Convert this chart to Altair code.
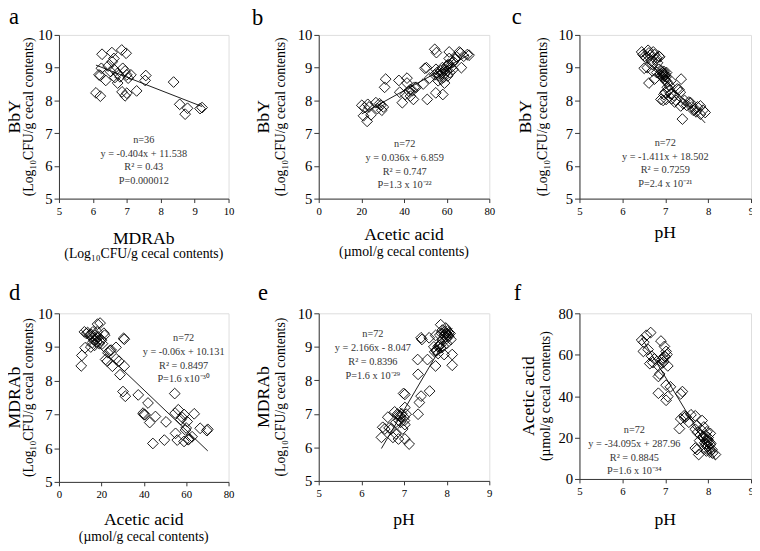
import altair as alt
import pandas as pd

FONT = "Liberation Serif"

# ---------------- data ----------------
a_x = [6.27, 6.56, 6.85, 6.98, 6.57, 6.62, 6.25, 6.18, 6.22, 6.38, 6.52, 6.62, 6.73, 6.88, 6.95, 7.00,
       7.12, 7.04, 6.73, 6.65, 6.80, 6.09, 6.22, 6.86, 6.95, 7.00, 7.29, 7.56, 7.54, 8.38, 8.56, 8.79,
       8.72, 9.16, 9.22, 6.45]
a_y = [9.41, 9.46, 9.54, 9.44, 9.18, 9.28, 8.98, 8.78, 8.76, 8.61, 8.88, 8.95, 8.83, 8.98, 8.90, 8.78,
       8.78, 8.68, 8.53, 8.70, 8.72, 8.23, 8.13, 8.26, 8.14, 8.22, 8.29, 8.76, 8.61, 8.56, 7.88, 7.76,
       7.58, 7.75, 7.78, 9.05]

b_x = [20.2, 21.0, 22.7, 23.0, 24.5, 26.8, 29.1, 29.6, 30.3, 30.9, 31.4, 21.5, 23.6, 27.5, 28.5,
       37.6, 39.2, 40.6, 41.4, 41.4, 42.9, 44.4, 44.9, 45.7, 43.0, 42.3, 38.0, 44.0,
       49.8, 50.5, 50.9, 49.0, 54.4, 55.2, 54.9, 58.2, 52.0, 54.4, 55.5, 56.0, 56.5, 57.0, 57.5, 58.0,
       58.5, 59.0, 59.0, 59.5, 60.0, 60.0, 60.5, 61.0, 61.2, 61.2, 61.5, 62.0, 62.5, 63.2, 64.0, 64.7,
       65.9, 66.9, 66.5, 68.0, 69.7, 70.5, 56.0, 57.5, 58.0, 60.5, 63.0, 55.0]
b_y = [7.85, 7.53, 7.36, 7.88, 7.56, 7.93, 7.85, 7.70, 7.80, 8.40, 8.65, 7.78, 7.80, 7.75, 7.90,
       8.61, 7.93, 8.18, 8.68, 8.53, 8.33, 8.03, 8.40, 8.40, 8.13, 8.28, 8.25, 8.30,
       8.98, 9.00, 8.03, 8.50, 9.56, 9.46, 8.23, 8.18, 8.68, 8.78, 8.85, 8.80, 8.75, 8.90, 8.82, 8.85,
       8.70, 8.53, 8.80, 8.95, 8.90, 9.05, 9.08, 9.10, 9.28, 9.48, 8.85, 9.00, 9.15, 9.18, 9.25, 9.33,
       9.48, 9.00, 9.45, 9.35, 9.40, 9.38, 8.60, 8.65, 9.00, 8.75, 8.95, 8.95]

c_x = [6.45, 6.48, 6.52, 6.55, 6.60, 6.62, 6.65, 6.68, 6.70, 6.72, 6.75, 6.78, 6.80, 6.82, 6.85, 6.87,
       6.51, 6.62, 6.70, 6.75, 6.80, 6.85, 6.88, 6.90, 6.92, 6.93, 6.94, 6.95, 6.96, 6.97, 6.98, 6.99,
       7.00, 7.01, 7.02, 7.03, 7.05, 6.90, 6.95, 6.97, 7.00, 7.02, 7.05, 7.08, 7.10, 7.12, 7.15, 7.13,
       7.20, 7.22, 7.25, 7.28, 7.32, 7.35, 7.36, 7.37, 7.40, 7.42, 7.45, 7.50, 7.55, 7.59, 7.62, 7.65,
       7.70, 7.72, 7.75, 7.82, 7.82, 7.88, 7.93, 6.58]
c_y = [9.48, 9.40, 9.35, 9.30, 9.53, 9.45, 9.38, 9.20, 9.10, 9.48, 9.40, 9.25, 9.30, 9.15, 9.35, 9.33,
       8.98, 8.53, 8.90, 8.65, 8.85, 8.95, 8.80, 8.75, 8.90, 8.85, 8.78, 8.70, 8.82, 8.88, 8.75, 8.65,
       8.80, 8.60, 8.72, 8.85, 8.55, 8.03, 8.00, 8.18, 8.25, 8.03, 8.40, 8.30, 8.45, 8.20, 8.05, 8.60,
       8.15, 7.95, 8.00, 8.35, 8.33, 8.25, 7.83, 8.65, 7.43, 7.90, 8.00, 7.85, 7.95, 7.93, 7.80, 7.70,
       7.73, 7.65, 7.80, 7.83, 7.58, 7.70, 7.63, 9.00]

d_x = [12.0, 13.0, 13.5, 14.5, 15.1, 15.5, 16.0, 16.5, 17.0, 17.4, 17.8, 18.2, 18.5, 19.0, 19.4, 19.7,
       20.0, 15.8, 16.8, 18.0, 21.2, 21.5, 12.3, 10.8, 10.5, 22.0, 23.1, 24.0, 24.6, 26.9, 30.5, 30.8,
       22.8, 25.2, 28.3, 28.8, 30.8, 30.2, 31.3, 37.4, 42.0, 39.7, 40.6, 42.8, 45.5, 44.3, 49.7, 50.5,
       54.6, 54.8, 56.3, 55.0, 55.8, 58.2, 59.0, 59.7, 60.5, 61.2, 59.0, 62.8, 63.8, 66.6, 70.2, 69.8,
       57.5, 40.0, 15.0, 20.5, 27.0, 60.0, 61.0, 17.5]
d_y = [9.45, 9.40, 9.43, 9.35, 9.38, 9.30, 9.45, 9.20, 9.35, 9.23, 9.15, 9.68, 9.30, 9.10, 9.71, 9.23,
       9.20, 9.13, 9.05, 9.45, 9.41, 9.35, 8.98, 8.75, 8.44, 8.63, 8.83, 8.90, 8.91, 8.99, 9.26, 9.23,
       8.58, 8.43, 8.58, 8.18, 8.43, 7.68, 7.54, 7.58, 7.34, 7.04, 6.99, 6.76, 6.94, 6.14, 6.24, 6.78,
       7.62, 7.04, 7.14, 6.44, 6.24, 6.91, 7.00, 6.54, 6.79, 6.27, 6.20, 6.34, 7.02, 6.59, 6.56, 6.52,
       6.85, 7.00, 9.00, 9.10, 8.65, 6.60, 6.25, 9.30]

e_x = [6.47, 6.50, 6.55, 6.62, 6.65, 6.70, 6.74, 6.78, 6.81, 6.81, 6.85, 6.87, 6.88, 6.90, 6.92, 6.95,
       6.97, 6.99, 7.01, 7.02, 7.02, 7.02, 7.02, 7.05, 7.12, 6.85, 6.92, 7.00, 7.33, 7.36, 7.40, 7.60,
       7.33, 7.32, 7.55, 7.74, 7.59, 7.40, 7.42, 7.74, 7.70, 7.72, 7.76, 7.80, 7.82, 7.85, 7.86, 7.88,
       7.90, 7.92, 7.94, 7.95, 7.96, 7.98, 7.98, 8.00, 8.00, 8.02, 8.03, 8.05, 8.05, 8.08, 8.10, 8.13,
       8.13, 7.84, 7.90, 8.00, 7.75, 7.80, 7.86, 7.97]
e_y = [6.30, 6.60, 6.55, 6.90, 6.58, 6.55, 6.30, 7.06, 6.40, 6.75, 7.00, 6.25, 6.80, 6.95, 6.90, 7.00,
       6.55, 7.61, 6.80, 7.58, 6.68, 7.19, 6.25, 6.99, 6.10, 6.95, 6.75, 6.90, 6.99, 7.34, 7.53, 7.68,
       8.18, 8.62, 8.62, 8.43, 9.27, 9.27, 9.22, 9.34, 9.00, 8.85, 8.88, 9.00, 9.04, 9.05, 9.66, 9.40,
       9.20, 9.02, 8.77, 9.35, 9.45, 9.56, 9.30, 9.40, 9.25, 9.47, 9.35, 9.32, 9.42, 9.40, 9.22, 8.77,
       8.45, 9.35, 9.50, 9.10, 8.90, 8.80, 8.97, 9.38]

f_x = [6.45, 6.50, 6.56, 6.66, 6.49, 6.60, 6.68, 6.64, 6.71, 6.75, 6.84, 6.90, 6.98, 7.02, 7.04, 6.98,
       6.92, 6.95, 7.00, 6.96, 7.06, 6.87, 6.84, 6.84, 7.02, 7.12, 7.06, 7.02, 7.40, 7.36, 7.33, 7.36,
       7.44, 7.48, 7.55, 7.70, 7.74, 7.86, 7.90, 7.74, 7.70, 7.78, 7.97, 8.05, 7.90, 7.97, 8.05, 8.09,
       8.17, 7.93, 7.82, 7.95, 8.00, 8.02, 7.98, 8.03, 8.10, 7.88, 7.92, 8.00, 7.85, 7.60, 7.45, 7.70,
       7.75, 7.80, 8.06, 7.96, 7.99, 8.04, 7.94, 6.93]
f_y = [67.1, 66.0, 69.4, 70.7, 61.6, 62.5, 59.3, 55.7, 56.2, 58.0, 54.6, 66.6, 64.0, 61.6, 60.1, 59.3,
       57.7, 58.5, 59.0, 56.5, 54.6, 50.7, 49.5, 41.4, 45.3, 44.5, 39.8, 38.0, 42.2, 41.1, 24.3, 29.0,
       30.5, 30.2, 27.4, 30.5, 25.8, 28.2, 25.1, 14.2, 14.9, 11.8, 22.8, 22.0, 19.6, 18.1, 16.5, 14.2,
       11.8, 14.9, 21.2, 17.0, 16.0, 18.0, 15.5, 14.5, 12.5, 20.5, 17.5, 20.0, 23.5, 31.0, 29.5, 24.0,
       22.5, 18.5, 17.2, 13.5, 19.0, 13.0, 21.0, 56.0]

# regression equations printed on each panel
slopes = [-0.404, 0.036, -1.411, -0.06, 2.166, -34.095]
intercepts = [11.538, 6.859, 18.502, 10.131, -8.047, 287.96]

ann_text = [
    ["n=36", "y = -0.404x + 11.538", "R² = 0.43", "P=0.000012"],
    ["n=72", "y = 0.036x + 6.859", "R² = 0.747", "P=1.3 x 10⁻²²"],
    ["n=72", "y = -1.411x + 18.502", "R² = 0.7259", "P=2.4 x 10⁻²¹"],
    ["n=72", "y = -0.06x + 10.131", "R² = 0.8497", "P=1.6 x10⁻³⁰"],
    ["n=72", "y = 2.166x - 8.047", "R² = 0.8396", "P=1.6 x 10⁻²⁹"],
    ["n=72", "y = -34.095x + 287.96", "R² = 0.8845", "P=1.6 x 10⁻³⁴"],
]
# position (in data units) of the first annotation line
ann_pos = [(7.5, 6.79), (40.3, 6.66), (7.0, 6.70), (58.8, 9.26), (6.27, 9.37), (6.28, 23.5)]

letters = ["a", "b", "c", "d", "e", "f"]
log_t = "(Log₁₀CFU/g cecal contents)"
umol_t = "(µmol/g cecal contents)"
x_titles = [("MDRAb", log_t), ("Acetic acid", umol_t), ("pH", ""),
            ("Acetic acid", umol_t), ("pH", ""), ("pH", "")]
y_titles = [("BbY", log_t), ("BbY", log_t), ("BbY", log_t),
            ("MDRAb", log_t), ("MDRAb", log_t), ("Acetic acid", umol_t)]

x_domains = [[5, 10], [0, 80], [5, 9], [0, 80], [5, 9], [5, 9]]
x_ticks = [[5, 6, 7, 8, 9, 10], [0, 20, 40, 60, 80], [5, 6, 7, 8, 9],
           [0, 20, 40, 60, 80], [5, 6, 7, 8, 9], [5, 6, 7, 8, 9]]
y_domains = [[5, 10]] * 5 + [[0, 80]]
y_ticks = [[5, 6, 7, 8, 9, 10]] * 5 + [[0, 20, 40, 60, 80]]

# ---------------- layout (pixels) ----------------
widths = [173, 174, 175, 173, 174, 175]
heights = [167, 167, 167, 172, 171, 169]
letter_off = [(-51, -11), (-68, -10), (-69, -11), (-51, -14), (-62, -14), (-67, -14)]
ytitle_off = [(-40, -27), (-51, -34), (-49, -33), (-40, -27), (-51, -34), (-46, -30)]
xtitle_off = [(46, 61), (42, 59), (40, 0), (44, 60), (45, 0), (47, 0)]

one = pd.DataFrame({"k": [0]})


def panel(i, xs, ys):
    W, H = widths[i], heights[i]
    xsc = alt.Scale(domain=x_domains[i], nice=False, zero=False)
    ysc = alt.Scale(domain=y_domains[i], nice=False, zero=False)
    xax = alt.Axis(values=x_ticks[i], title=None, grid=False, format="d",
                   labelFontSize=11, labelFont=FONT, labelColor="black",
                   tickSize=4, labelPadding=3, domainColor="#333", tickColor="#333",
                   labelFlush=False, labelOverlap=False)
    yax = alt.Axis(values=y_ticks[i], title=None, grid=False, format="d",
                   labelFontSize=15, labelFont=FONT, labelColor="black",
                   tickSize=5, labelPadding=2, domainColor="#333", tickColor="#333",
                   labelFlush=False, labelOverlap=False)
    X = alt.X("x:Q", scale=xsc, axis=xax)
    Y = alt.Y("y:Q", scale=ysc, axis=yax)
    df = pd.DataFrame({"x": xs, "y": ys})
    pts = alt.Chart(df).mark_point(shape="diamond", filled=False, size=120,
                                   color="black", strokeWidth=0.9, opacity=1).encode(x=X, y=Y)
    lo, hi = min(xs), max(xs)
    ldf = pd.DataFrame({"x": [lo, hi],
                        "y": [slopes[i] * lo + intercepts[i], slopes[i] * hi + intercepts[i]]})
    line = alt.Chart(ldf).mark_line(color="black", strokeWidth=0.9).encode(x=X, y=Y)
    adf = pd.DataFrame({"x": [ann_pos[i][0]], "y": [ann_pos[i][1]]})
    ann = alt.Chart(adf).mark_text(text=ann_text[i], font=FONT, fontSize=10.5, lineHeight=14,
                                   color="#333", align="center", baseline="middle").encode(x=X, y=Y)
    layers = [pts, line, ann]
    # panel letter
    layers.append(alt.Chart(one).mark_text(text=letters[i], font=FONT, fontSize=23,
                                           color="black", align="left", baseline="alphabetic").encode(
        x=alt.value(letter_off[i][0]), y=alt.value(letter_off[i][1])))
    # y titles (rotated)
    yt1, yt2 = y_titles[i]
    layers.append(alt.Chart(one).mark_text(text=yt1, font=FONT, fontSize=18, angle=270,
                                           color="black", align="center", baseline="alphabetic").encode(
        x=alt.value(ytitle_off[i][0]), y=alt.value(H / 2)))
    layers.append(alt.Chart(one).mark_text(text=yt2, font=FONT, fontSize=14, angle=270,
                                           color="black", align="center", baseline="alphabetic").encode(
        x=alt.value(ytitle_off[i][1]), y=alt.value(H / 2)))
    # x titles
    xt1, xt2 = x_titles[i]
    layers.append(alt.Chart(one).mark_text(text=xt1, font=FONT, fontSize=18,
                                           color="black", align="center", baseline="alphabetic").encode(
        x=alt.value(W / 2), y=alt.value(H + xtitle_off[i][0])))
    if xt2:
        layers.append(alt.Chart(one).mark_text(text=xt2, font=FONT, fontSize=14,
                                               color="black", align="center", baseline="alphabetic").encode(
            x=alt.value(W / 2), y=alt.value(H + xtitle_off[i][1])))
    return alt.layer(*layers).properties(width=W, height=H)


panels = [panel(0, a_x, a_y), panel(1, b_x, b_y), panel(2, c_x, c_y),
          panel(3, d_x, d_y), panel(4, e_x, e_y), panel(5, f_x, f_y)]

chart = alt.concat(*panels, columns=3, spacing={"row": 117, "column": 92},
                   bounds="flush").properties(
    padding={"left": -3, "top": -8, "right": -3, "bottom": 0}
).configure_view(
    stroke="#888", strokeWidth=1
).configure(
    font=FONT
)

chart.save("out.html", embed_options={"renderer": "svg", "actions": False})
